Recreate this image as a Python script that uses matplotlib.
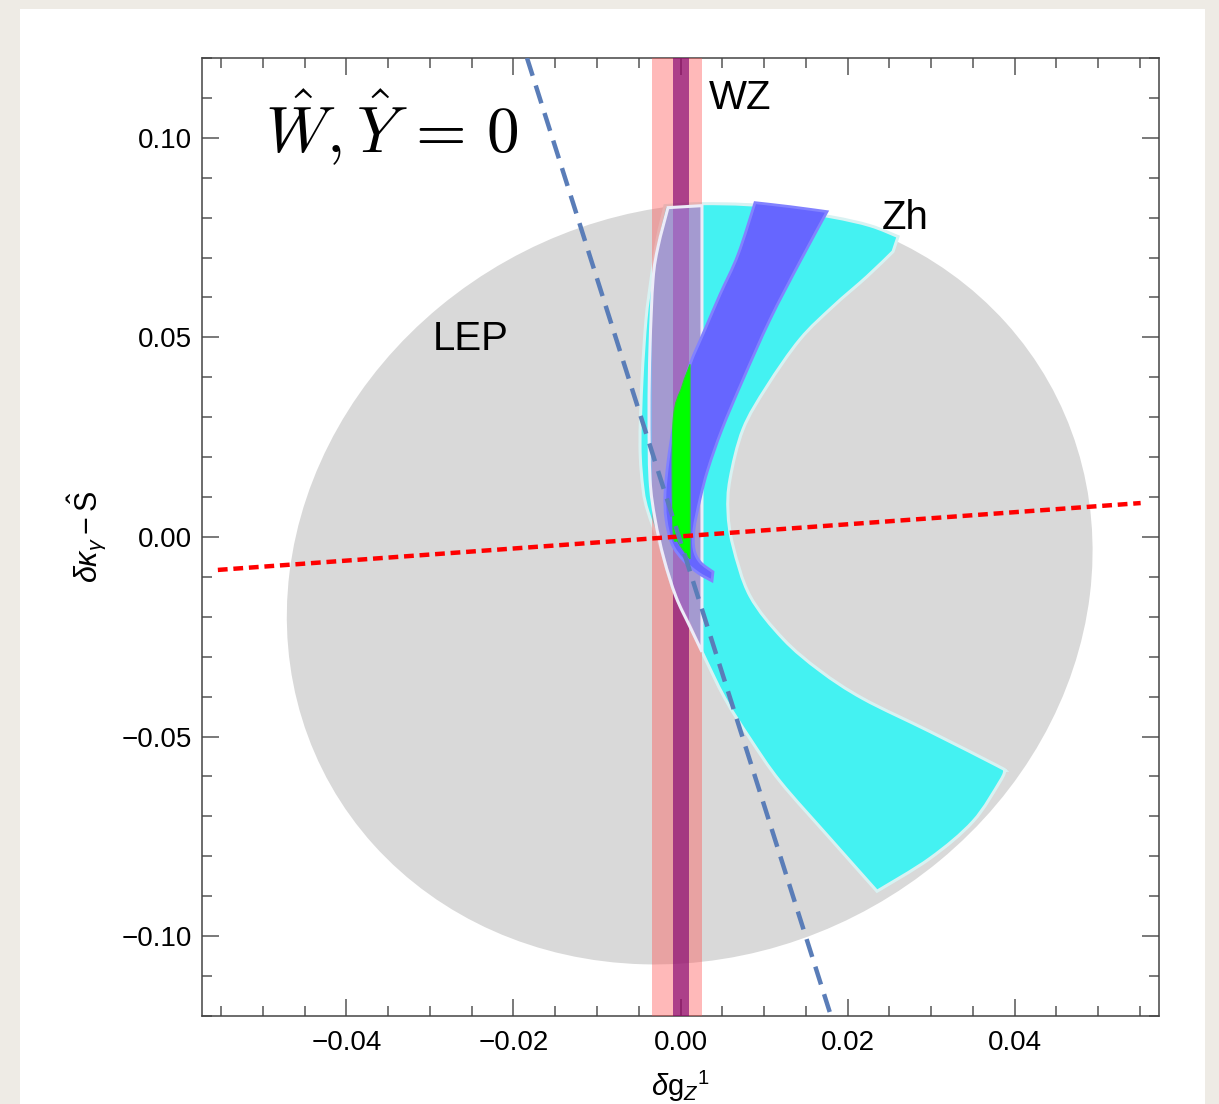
import numpy as np
from matplotlib import pyplot as plt
from matplotlib.patches import PathPatch, Rectangle, Ellipse
from matplotlib.path import Path
from matplotlib.ticker import MultipleLocator, FuncFormatter

plt.rcParams['font.family'] = ['Liberation Sans', 'DejaVu Sans']
plt.rcParams['mathtext.fontset'] = 'custom'
plt.rcParams['mathtext.rm'] = 'Liberation Sans'
plt.rcParams['mathtext.it'] = 'Liberation Sans:italic'

#%% Allowed regions in the (dg_Z^1, dkappa_gamma - S) plane
# LEP fit ellipse: centre, full width / height, tilt (deg)
lep_center = (0.00110, -0.0117)
lep_width = 0.0960
lep_height = 0.1910
lep_angle = -3.36

# Zh region (corners = indices of sharp vertices)
zh_x = [-0.00186, 0.00234, 0.00952, 0.01790, 0.02269, 0.02605, 0.02545, 0.02234,
        0.01826, 0.01431, 0.01036, 0.00749, 0.00593, 0.00569, 0.00629, 0.00832,
        0.01228, 0.01671, 0.02186, 0.02988, 0.03790, 0.03886, 0.03826, 0.03503,
        0.02988, 0.02353, 0.01790, 0.01192, 0.00832, 0.00533, 0.00257, 0.00078,
        -0.00090, -0.00246, -0.00389, -0.00449, -0.00485, -0.00461, -0.00413,
        -0.00353, -0.00281]
zh_y = [0.0830, 0.0835, 0.0830, 0.08025, 0.0780, 0.07525, 0.0715, 0.06525,
        0.05775, 0.0495, 0.03775, 0.0270, 0.0145, 0.00625, -0.00225, -0.01475,
        -0.0255, -0.0335, -0.0405, -0.04875, -0.05725, -0.0585, -0.06125, -0.07125,
        -0.0805, -0.08875, -0.0755, -0.06125, -0.0505, -0.0405, -0.02875, -0.0205,
        -0.0130, -0.00225, 0.00625, 0.0120, 0.02275, 0.0395, 0.0545,
        0.0645, 0.0745]
zh_corners = [0, 5, 6, 21, 25]

# combined region (Zh + WZ)
comb_x = [-0.00150, 0.00257, 0.00257, 0.00114, -0.00054, -0.00198, -0.00305,
          -0.00365, -0.00377, -0.00365, -0.00329, -0.00269]
comb_y = [0.0825, 0.0830, -0.02875, -0.0225, -0.0150, -0.0055, 0.0045,
          0.0145, 0.03125, 0.04775, 0.0645, 0.07275]
comb_corners = [0, 1, 2]

# blue band
band_x = [0.00892, 0.01311, 0.01754, 0.01431, 0.01072, 0.00749, 0.00497, 0.00329,
          0.00234, 0.00162, 0.00162, 0.00234, 0.00389, 0.00377, 0.00210, 0.00042,
          -0.00102, -0.00174, -0.00186, -0.00150, -0.00090, -0.00006, 0.00114,
          0.00293, 0.00473, 0.00689]
band_y = [0.08375, 0.08275, 0.0815, 0.0690, 0.0545, 0.0395, 0.0270, 0.0170,
          0.0095, 0.0020, -0.0030, -0.00625, -0.00875, -0.0110, -0.0090, -0.0060,
          -0.00175, 0.0045, 0.01075, 0.01875, 0.0270, 0.0345, 0.04325,
          0.0520, 0.06075, 0.07075]
band_corners = [0, 2, 12, 13]

# all constraints together
all_x = [0.00114, 0.00114, 0.00066, -0.00030, -0.00090, -0.00090, 0.00018]
all_y = [0.04325, -0.0055, -0.00425, -0.00125, 0.0020, 0.02875, 0.03775]
all_corners = [0, 1]

# WZ bounds on dg_Z^1
wz_outer = [-0.0034, 0.0026]
wz_inner = [-0.0009, 0.0010]

# flat directions
red_x = [-0.0554, 0.0551]
red_y = [-0.00825, 0.0085]
blue_x = [-0.01838, 0.01802]
blue_y = [0.12, -0.12]


def region_path(xs, ys, corners=None):
    """closed path through the vertices, curved (Catmull-Rom as Bezier)
    except at the corner vertices"""
    p = np.column_stack([xs, ys])
    n = len(p)
    corners = corners or []
    verts = [p[0]]
    codes = [Path.MOVETO]
    for i in range(n):
        j = (i + 1) % n
        if i in corners and j in corners:
            verts.append(p[j])
            codes.append(Path.LINETO)
            continue
        p0 = p[i] if i in corners else p[(i - 1) % n]
        p3 = p[j] if j in corners else p[(j + 1) % n]
        c1 = p[i] + (p[j] - p0) / 6
        c2 = p[j] - (p3 - p[i]) / 6
        verts += [c1, c2, p[j]]
        codes += [Path.CURVE4] * 3
    verts.append(p[0])
    codes.append(Path.CLOSEPOLY)
    return Path(verts, codes)


#%% plot
fig = plt.figure(figsize=(12.19, 11.04), dpi=100)
fig.patch.set_facecolor('#eeebe5')
fig.patches.append(Rectangle((0.0164, 0.0), 0.972, 0.9918, transform=fig.transFigure,
                             facecolor='white', edgecolor='none', zorder=-10))
ax = fig.add_axes([0.1657, 0.0797, 0.7851, 0.8678])

ax.add_patch(Ellipse(lep_center, lep_width, lep_height, angle=lep_angle,
                     facecolor='#d9d9d9', edgecolor='none', zorder=1))
ax.add_patch(PathPatch(region_path(zh_x, zh_y, zh_corners), facecolor='#44f2f2',
                       edgecolor='#d8f2f2', lw=2.2, zorder=2))
ax.axvspan(wz_outer[0], wz_outer[1], color='#ff5050', alpha=0.4, lw=0, zorder=3)
ax.axvspan(wz_inner[0], wz_inner[1], color='#800070', alpha=0.65, lw=0, zorder=3)
ax.add_patch(PathPatch(region_path(comb_x, comb_y, comb_corners), facecolor='#b48ce6',
                       alpha=0.6, edgecolor='none', zorder=4))
ax.add_patch(PathPatch(region_path(comb_x, comb_y, comb_corners), facecolor='none',
                       edgecolor='#ececf8', lw=2.2, zorder=4))
ax.add_patch(PathPatch(region_path(band_x, band_y, band_corners), facecolor='#6666ff',
                       edgecolor='#8282ff', lw=2, zorder=5))
ax.add_patch(PathPatch(region_path(all_x, all_y, all_corners), facecolor='#00ff00',
                       edgecolor='#22dd22', lw=0.8, zorder=6))

ax.plot(red_x, red_y, color='red', lw=3.2, ls=(0, (2.2, 1.3)), zorder=7)
ax.plot(blue_x, blue_y, color='#5a7db8', lw=3.2, ls=(0, (4.2, 2.3)), zorder=7)

ax.text(-0.0251, 0.0495, 'LEP', fontsize=29, ha='center', va='center', zorder=8)
ax.text(0.00713, 0.1100, 'WZ', fontsize=29, ha='center', va='center', zorder=8)
ax.text(0.0269, 0.0800, 'Zh', fontsize=29, ha='center', va='center', zorder=8)
ax.text(-0.0498, 0.0965, r'$\hat{W},\hat{Y}\,=\,0$', fontsize=47, ha='left',
        va='baseline', math_fontfamily='cm', zorder=8)

ax.set_xlim(-0.0573, 0.0573)
ax.set_ylim(-0.12, 0.12)
ax.xaxis.set_major_locator(MultipleLocator(0.02))
ax.xaxis.set_minor_locator(MultipleLocator(0.005))
ax.yaxis.set_major_locator(MultipleLocator(0.05))
ax.yaxis.set_minor_locator(MultipleLocator(0.01))
fmt = FuncFormatter(lambda v, p: f'{round(v, 3) + 0.0:.2f}'.replace('-', '\u2212'))
ax.xaxis.set_major_formatter(fmt)
ax.yaxis.set_major_formatter(fmt)
ax.tick_params(which='both', direction='in', top=True, right=True, color='#555555',
               width=1.1, labelsize=20)
ax.tick_params(which='major', length=12, pad=10)
ax.tick_params(axis='y', which='major', pad=7)
ax.tick_params(which='minor', length=7)
for s in ax.spines.values():
    s.set_color('#444444')
    s.set_linewidth(1.1)

ax.set_xlabel(r'$\delta\mathrm{g}_Z{}^1$', fontsize=21, labelpad=9)
ax.set_ylabel(r'$\delta\kappa_\gamma - \hat{\mathrm{S}}$', fontsize=22, labelpad=10)

plt.savefig('out.png', dpi=100, facecolor=fig.get_facecolor())
